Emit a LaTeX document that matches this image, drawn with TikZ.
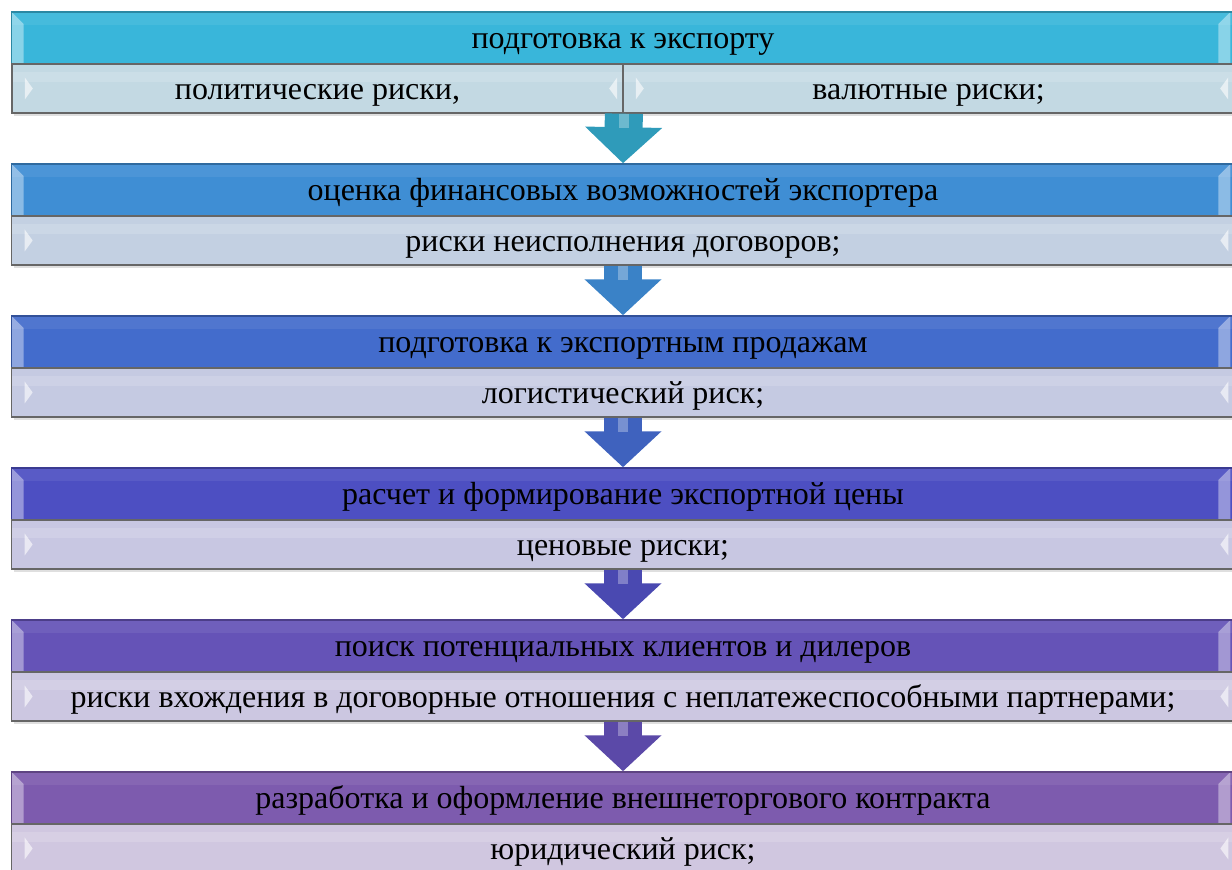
\documentclass[tikz,border=0pt]{standalone}
\usepackage{fontspec}
\setmainfont{Liberation Serif}
\usetikzlibrary{arrows.meta, shadows}

% stage colours, from cyan down to violet
\definecolor{stageA}{HTML}{39B6DA}
\definecolor{stageB}{HTML}{3F8ED4}
\definecolor{stageC}{HTML}{436CCC}
\definecolor{stageD}{HTML}{4D4FC2}
\definecolor{stageE}{HTML}{6553B7}
\definecolor{stageF}{HTML}{7D5BAE}
\definecolor{riskA}{HTML}{C3D9E3}
\definecolor{riskB}{HTML}{C3D0E2}
\definecolor{riskC}{HTML}{C5CAE2}
\definecolor{riskD}{HTML}{C8C7E2}
\definecolor{riskE}{HTML}{CCC7E1}
\definecolor{riskF}{HTML}{D0C7E0}
\definecolor{arrowA}{HTML}{2F9BBA}
\definecolor{arrowB}{HTML}{3A82C7}
\definecolor{arrowC}{HTML}{3F62BE}
\definecolor{arrowD}{HTML}{4A49B1}
\definecolor{arrowE}{HTML}{5B49A8}

\tikzset{
  barfont/.style={font=\fontsize{9.1}{10}\selectfont, text height=0.21cm, text depth=0cm},
  stagebar/.style={draw=#1!75!black, fill=#1, minimum width=12.22cm,
    minimum height=0.52cm, inner sep=0pt, barfont,
    drop shadow={opacity=0.25, shadow xshift=0.02cm, shadow yshift=-0.03cm},
    path picture={
      \fill[white, opacity=0.07] (path picture bounding box.north west)
        rectangle ([yshift=-0.13cm]path picture bounding box.north east);
      \fill[white, opacity=0.4] (path picture bounding box.north west) -- ++(12,12)
        -- ([xshift=0.12cm]path picture bounding box.south west)
        -- (path picture bounding box.south west) -- cycle;
      \fill[white, opacity=0.4] ([xshift=-0.04cm]path picture bounding box.north east) -- ++(-12,12)
        -- ([xshift=-0.16cm]path picture bounding box.south east)
        -- ([xshift=-0.04cm]path picture bounding box.south east) -- cycle;
    }},
  riskbar/.style={draw=black!60, fill=#1, minimum width=12.22cm,
    minimum height=0.49cm, inner sep=0pt, barfont,
    drop shadow={opacity=0.25, shadow xshift=0.02cm, shadow yshift=-0.03cm},
    path picture={
      \fill[white, opacity=0.15] ([yshift=-0.08cm]path picture bounding box.north west)
        rectangle ([yshift=-0.18cm]path picture bounding box.north east);
      \fill[white, opacity=0.6] ([xshift=0.13cm, yshift=0.11cm]path picture bounding box.west)
        -- ++(8,11) -- ++(-8,11) -- cycle;
      \fill[white, opacity=0.6] ([xshift=-0.06cm, yshift=0.11cm]path picture bounding box.east)
        -- ++(-8,11) -- ++(8,11) -- cycle;
    }},
  halfbar/.style={riskbar=#1, minimum width=6.11cm},
  flowarrow/.style={draw=#1, line width=0.38cm,
    -{Triangle[length=0.36cm, width=0.75cm]}},
  shine/.style={draw=white, opacity=0.3, line width=0.1cm}
}

\begin{document}
\begin{tikzpicture}[x=0.01cm, y=-0.01cm]
    \useasboundingbox (0,0) rectangle (1232,870);

    % Stage 1
    \node[stagebar=stageA] (h1) at (623,38) {подготовка к экспорту};
    \node[halfbar=riskA] (r1a) at (317.5,88.5) {политические риски,};
    \node[halfbar=riskA] (r1b) at (928.5,88.5) {валютные риски;};

    % Stage 2
    \node[stagebar=stageB] (h2) at (623,190) {оценка финансовых возможностей экспортера};
    \node[riskbar=riskB] (r2) at (623,240.5) {риски неисполнения договоров;};

    % Stage 3
    \node[stagebar=stageC] (h3) at (623,342) {подготовка к экспортным продажам};
    \node[riskbar=riskC] (r3) at (623,392.5) {логистический риск;};

    % Stage 4
    \node[stagebar=stageD] (h4) at (623,494) {расчет и формирование экспортной цены};
    \node[riskbar=riskD] (r4) at (623,544.5) {ценовые риски;};

    % Stage 5
    \node[stagebar=stageE] (h5) at (623,646) {поиск потенциальных клиентов и дилеров};
    \node[riskbar=riskE] (r5) at (623,696.5) {риски вхождения в договорные отношения с неплатежеспособными партнерами;};

    % Stage 6
    \node[stagebar=stageF] (h6) at (623,798) {разработка и оформление внешнеторгового контракта};
    \node[riskbar=riskF] (r6) at (623,848.5) {юридический риск;};

    % Block arrows between the stages
    \draw[flowarrow=arrowA] (r1a.south east) -- (h2.north);
    \draw[shine] (r1a.south east) -- ++(0,14);
    \draw[flowarrow=arrowB] (r2.south) -- (h3.north);
    \draw[shine] (r2.south) -- ++(0,14);
    \draw[flowarrow=arrowC] (r3.south) -- (h4.north);
    \draw[shine] (r3.south) -- ++(0,14);
    \draw[flowarrow=arrowD] (r4.south) -- (h5.north);
    \draw[shine] (r4.south) -- ++(0,14);
    \draw[flowarrow=arrowE] (r5.south) -- (h6.north);
    \draw[shine] (r5.south) -- ++(0,14);

\end{tikzpicture}
\end{document}
